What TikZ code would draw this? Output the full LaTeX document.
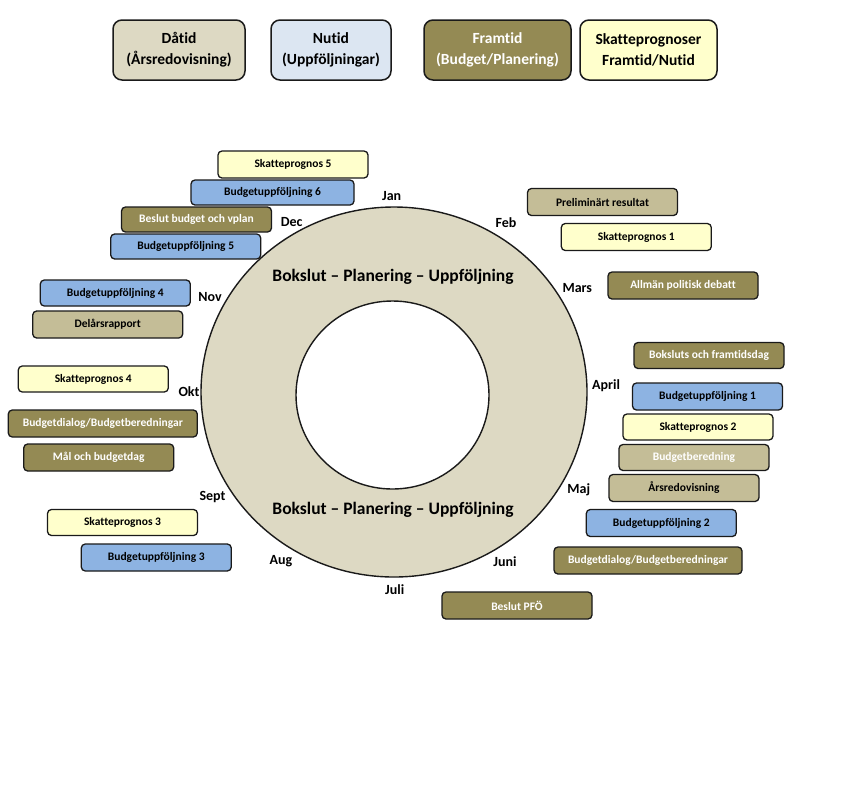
\documentclass[tikz,border=0pt]{standalone}
\usepackage{fontspec}
\setmainfont{Carlito}[Ligatures=NoCommon]
\definecolor{cRing}{HTML}{DDD9C3}
\definecolor{cTan}{HTML}{C4BD97}
\definecolor{cOli}{HTML}{948A54}
\definecolor{cBlu}{HTML}{8DB3E2}
\definecolor{cLBlu}{HTML}{DCE6F2}
\definecolor{cYel}{HTML}{FFFFCC}
\definecolor{cEdge}{HTML}{1A1A1A}
\begin{document}
\begin{tikzpicture}[x=1pt,y=-1pt,
  box/.style={draw=cEdge, line width=1.3pt, rounded corners=4pt, inner sep=0pt,
    font=\fontsize{11.5}{13}\selectfont\bfseries, text=black, minimum height=26pt, minimum width=150pt},
  yel/.style={box, fill=cYel},
  blu/.style={box, fill=cBlu},
  oli/.style={box, fill=cOli, text=white},
  tan/.style={box, fill=cTan},
  leg/.style={draw=cEdge, line width=1.5pt, rounded corners=9pt, inner sep=0pt, minimum height=60pt,
    align=center, font=\fontsize{15.5}{21}\selectfont\bfseries},
  month/.style={font=\fontsize{14}{16}\selectfont\bfseries, inner sep=0pt},
  ringtxt/.style={font=\fontsize{17.5}{19}\selectfont\bfseries, inner sep=0pt}]
\useasboundingbox (0,0) rectangle (858,788);
\fill[white] (0,0) rectangle (858,788);

% legend
\node[leg, fill=cRing, minimum width=132pt] (l1) at (179,50) {Dåtid\\(Årsredovisning)};
\node[leg, fill=cLBlu, minimum width=120pt] (l2) at (331,50) {Nutid\\(Uppföljningar)};
\node[leg, fill=cOli, text=white, minimum width=147pt] (l3) at (497.5,50) {Framtid\\(Budget/Planering)};
\node[leg, fill=cYel, minimum width=137pt] (l4) at (648.5,50) {Skatteprognoser\\Framtid/Nutid};

% ring
\fill[cRing, even odd rule] (394,392) ellipse [x radius=193pt, y radius=185pt]
  (392.5,395) ellipse [x radius=96.5pt, y radius=94pt];
\draw[cEdge, line width=1.4pt] (394,392) ellipse [x radius=193pt, y radius=185pt];
\draw[cEdge, line width=1.4pt] (392.5,395) ellipse [x radius=96.5pt, y radius=94pt];
\node[ringtxt] (rt1) at (393,277) {Bokslut – Planering – Uppföljning};
\node[ringtxt] (rt2) at (393,510) {Bokslut – Planering – Uppföljning};

% months
\node[month] (jan) at (391.7,196) {Jan};
\node[month] (feb) at (506,222.7) {Feb};
\node[month] (mar) at (577.3,288) {Mars};
\node[month] (apr) at (606,386) {April};
\node[month] (maj) at (578.7,490) {Maj};
\node[month] (jun) at (505,561.7) {Juni};
\node[month] (jul) at (394.7,590) {Juli};
\node[month] (aug) at (281,561) {Aug};
\node[month] (sep) at (212.5,497) {Sept};
\node[month] (okt) at (189,392) {Okt};
\node[month] (nov) at (210,297) {Nov};
\node[month] (dec) at (291.7,221.7) {Dec};

% left side boxes
\node[yel, minimum height=27pt] (sk5) at (293,164.5) {Skatteprognos 5};
\node[blu, minimum width=163pt, minimum height=25pt] (bu6) at (272.5,192.5) {Budgetuppföljning 6};
\node[oli, minimum height=25pt] (bbv) at (196.5,219.5) {Beslut budget och vplan};
\node[blu, minimum height=25pt] (bu5) at (185.7,246.5) {Budgetuppföljning 5};
\node[blu] (bu4) at (115.3,293) {Budgetuppföljning 4};
\node[tan, minimum height=27pt] (del) at (107.7,324.5) {Delårsrapport};
\node[yel] (sk4) at (93.3,379) {Skatteprognos 4};
\node[oli, minimum width=189pt, minimum height=27pt] (bdl) at (102.8,423.5) {Budgetdialog/Budgetberedningar};
\node[oli, minimum height=27pt] (mal) at (98.7,457.5) {Mål och budgetdag};
\node[yel] (sk3) at (122.5,522.5) {Skatteprognos 3};
\node[blu, minimum height=27pt] (bu3) at (156.3,557.5) {Budgetuppföljning 3};

% right side boxes
\node[tan, minimum height=27pt] (pre) at (602.5,202) {Preliminärt resultat};
\node[yel, minimum height=27pt] (sk1) at (636.3,237) {Skatteprognos 1};
\node[oli, minimum height=27pt] (apd) at (683,285.5) {Allmän politisk debatt};
\node[oli] (bfd) at (709,355.5) {Boksluts och framtidsdag};
\node[blu, minimum height=27pt] (bu1) at (707.5,396.5) {Budgetuppföljning 1};
\node[yel] (sk2) at (698,427) {Skatteprognos 2};
\node[tan, text=white] (bber) at (694,457.5) {Budgetberedning};
\node[tan, minimum height=27pt] (ars) at (684,488) {Årsredovisning};
\node[blu, minimum height=27pt] (bu2) at (661.3,523) {Budgetuppföljning 2};
\node[oli, minimum width=188pt, minimum height=27pt] (bdr) at (648,560.5) {Budgetdialog/Budgetberedningar};
\node[oli, minimum height=27pt] (pfo) at (517,605.5) {Beslut PFÖ};
\end{tikzpicture}
\end{document}
